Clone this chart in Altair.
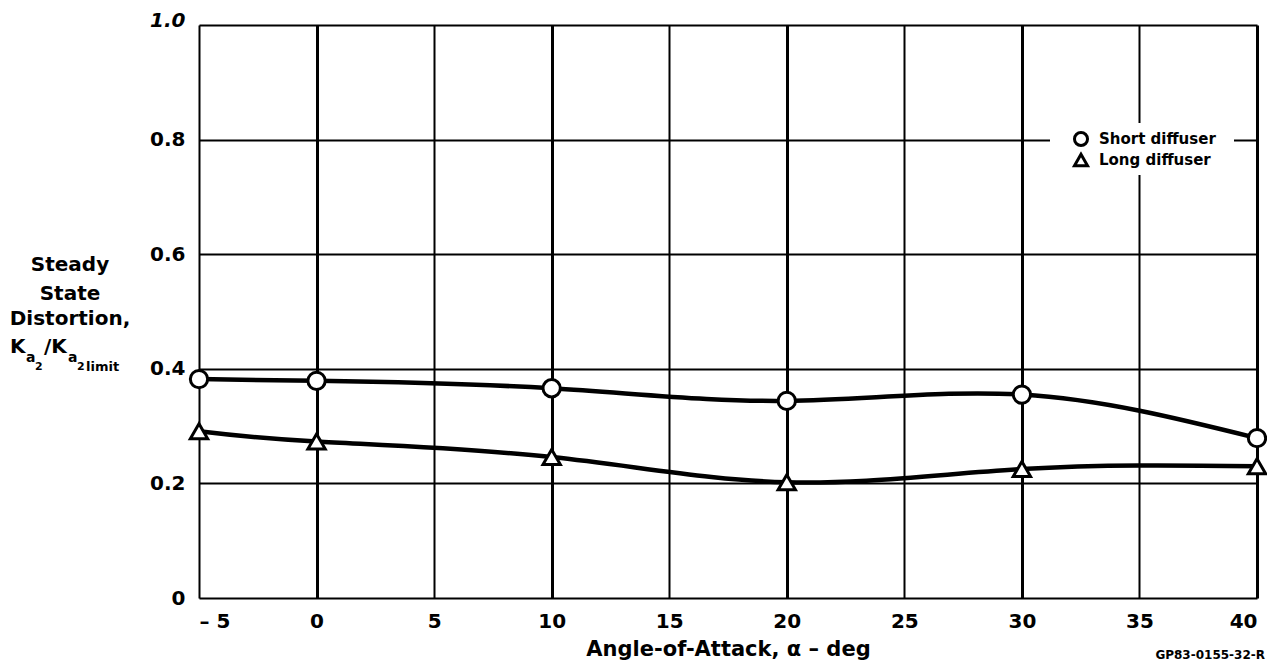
import altair as alt
import pandas as pd

alpha = [-5, 0, 10, 20, 30, 40]
short_diffuser = [0.382, 0.379, 0.366, 0.344, 0.355, 0.279]
long_diffuser = [0.291, 0.273, 0.246, 0.202, 0.225, 0.230]
series_names = ["Short diffuser", "Long diffuser"]
series_shapes = ["circle", "triangle-up"]
x_ticks = [-5, 0, 5, 10, 15, 20, 25, 30, 35, 40]
y_ticks = [0, 0.2, 0.4, 0.6, 0.8, 1.0]

rows = []
for a, s in zip(alpha, short_diffuser):
    rows.append({"alpha": a, "value": s, "series": series_names[0]})
for a, l in zip(alpha, long_diffuser):
    rows.append({"alpha": a, "value": l, "series": series_names[1]})
df = pd.DataFrame(rows)

FONT = "DejaVu Sans"

x_enc = alt.X(
    "alpha:Q",
    scale=alt.Scale(domain=[-5, 40], nice=False, zero=False),
    axis=alt.Axis(
        values=x_ticks,
        title="Angle-of-Attack, α – deg",
        labelExpr="datum.value == -5 ? '– 5' : datum.label",
        grid=True,
        gridColor="black",
        gridOpacity=1,
        gridWidth=alt.condition("datum.value % 10 == 0", alt.value(3), alt.value(2)),
        ticks=False,
        domain=False,
        labelFontSize=20,
        labelFontWeight="bold",
        labelColor="black",
        labelFont=FONT,
        labelPadding=13,
        titleFontSize=21,
        titleFont=FONT,
        titleFontWeight="bold",
        titleColor="black",
        titlePadding=7,
    ),
)
y_enc = alt.Y(
    "value:Q",
    scale=alt.Scale(domain=[0, 1], nice=False),
    axis=alt.Axis(
        values=y_ticks,
        title=None,
        labelExpr="datum.value == 0 ? '0' : format(datum.value, '.1f')",
        labelFontStyle=alt.condition("datum.value == 1", alt.value("italic"), alt.value("normal")),
        labelOffset=alt.condition("datum.value == 1", alt.value(-5), alt.value(0)),
        grid=True,
        gridColor="black",
        gridOpacity=1,
        gridWidth=2,
        ticks=False,
        domain=False,
        labelFontSize=20,
        labelFontWeight="bold",
        labelColor="black",
        labelFont=FONT,
        labelPadding=14,
    ),
)

lines = alt.Chart(df).mark_line(
    interpolate="natural", strokeWidth=4.5, color="black"
).encode(x=x_enc, y=y_enc, detail="series:N")

points = alt.Chart(df).mark_point(
    filled=True, fill="white", stroke="black", strokeWidth=3, size=300, opacity=1
).encode(
    x="alpha:Q",
    y="value:Q",
    shape=alt.Shape(
        "series:N",
        scale=alt.Scale(domain=series_names, range=series_shapes),
        legend=None,
    ),
)

one = alt.Data(values=[{}])

def txt(text, x, y, size=20, align="center", baseline="alphabetic", weight="bold", style="normal"):
    return alt.Chart(one).mark_text(
        text=text, fontSize=size, font=FONT, align=align, baseline=baseline,
        fontWeight=weight, fontStyle=style, color="black"
    ).encode(x=alt.value(x), y=alt.value(y))

# legend (white box, symbols, labels) inside the plot
legend_box = alt.Chart(one).mark_rect(color="white").encode(
    x=alt.value(851), x2=alt.value(1035), y=alt.value(98), y2=alt.value(150)
)
legend_items = []
for i, (name, shp) in enumerate(zip(series_names, series_shapes)):
    yy = 114 + i * 21
    legend_items.append(
        alt.Chart(one).mark_point(
            shape=shp, filled=True, fill="white", stroke="black", strokeWidth=3, size=170, opacity=1
        ).encode(x=alt.value(882), y=alt.value(yy))
    )
    legend_items.append(txt(name, 900, yy, size=15, align="left", baseline="middle"))

ytitle = [
    txt("Steady", -129, 246),
    txt("State", -129, 275),
    txt("Distortion,", -129, 300),
    txt("K", -189, 328, align="left"),
    txt("a", -173, 337, size=14, align="left"),
    txt("2", -164, 345, size=11, align="left"),
    txt("/K", -155, 328, align="left"),
    txt("a", -131, 337, size=14, align="left"),
    txt("2", -122, 345, size=11, align="left"),
    txt("limit", -113, 346, size=13, align="left"),
]
code = txt("GP83-0155-32-R", 1066, 634, size=12, align="right")

chart = alt.layer(lines, points, legend_box, *legend_items, *ytitle, code).properties(
    width=1058,
    height=573,
    autosize=alt.AutoSizeParams(type="none"),
    padding={"left": 191, "top": 17, "right": 10, "bottom": 64},
).configure_view(
    stroke="black", strokeWidth=3
).configure(background="white")

chart.save("out.html", embed_options={"renderer": "svg", "actions": False})
